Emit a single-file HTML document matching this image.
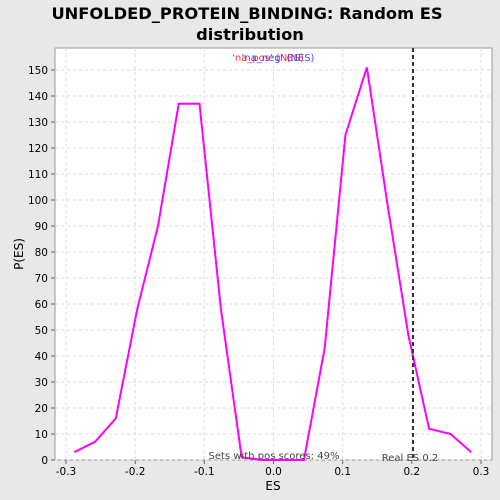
<!DOCTYPE html>
<html><head><style>
body{margin:0;background:#e8e8e8;font-family:"DejaVu Sans","Liberation Sans",sans-serif;}
svg{display:block}
</style></head><body>
<svg width="500" height="500">
<rect x="0" y="0" width="500" height="500" fill="#e8e8e8"/>
<text x="247" y="19" text-anchor="middle" font-size="16.3" font-weight="bold" fill="#000">UNFOLDED_PROTEIN_BINDING: Random ES</text>
<text x="250" y="40" text-anchor="middle" font-size="16.3" font-weight="bold" fill="#000">distribution</text>
<rect x="55" y="48" width="437" height="412" fill="#fff" stroke="#999"/>
<g id="grid"></g>
<g id="axes"></g>
<text x="268" y="61" text-anchor="middle" font-size="10" fill="#f33">'na_pos' (NES)</text>
<text x="278" y="61" text-anchor="middle" font-size="10" fill="#44f">'na_neg' (NES)</text>
<polyline id="line" fill="none" stroke="#f0f" stroke-width="2"/>
<line id="real" stroke="#333" stroke-width="2" stroke-dasharray="4,3"/>
<text x="274" y="459" text-anchor="middle" font-size="10" fill="#444">Sets with pos scores: 49%</text>
<text x="410" y="461" text-anchor="middle" font-size="10" fill="#444">Real ES 0.2</text>
<text x="273" y="490" text-anchor="middle" font-size="12">ES</text>
<text x="23" y="254" text-anchor="middle" font-size="12" transform="rotate(-90 23 254)">P(ES)</text>
</svg>
<script>
const esValues=[-0.288,-0.258,-0.228,-0.197,-0.167,-0.137,-0.107,-0.076,-0.046,-0.016,0.014,0.044,0.074,0.104,0.135,0.165,0.195,0.225,0.256,0.286];
const pValues=[3,7,16,58,90,137,137,58,1,0,0,0,43,125,151,98,48,12,10,3];
const xTicks=[-0.3,-0.2,-0.1,0.0,0.1,0.2,0.3];
const yTicks=[0,10,20,30,40,50,60,70,80,90,100,110,120,130,140,150];
const realES=0.2017;
const NS="http://www.w3.org/2000/svg";
const xs=v=>273.5+v*691.7, ys=v=>460-v*2.6;
const grid=document.getElementById('grid'), axes=document.getElementById('axes');
function mk(tag,attrs,parent){const e=document.createElementNS(NS,tag);for(const k in attrs)e.setAttribute(k,attrs[k]);parent.appendChild(e);return e;}
xTicks.forEach(t=>{const x=xs(t);
 const g=mk('line',{x1:x,x2:x,y1:48,y2:460,stroke:'#ddd','stroke-dasharray':'3,3'},grid);
 
 
 mk('line',{x1:x,x2:x,y1:460,y2:464,stroke:'#666'},axes);
 const tx=mk('text',{x:x,y:475,'text-anchor':'middle','font-size':'10.5'},axes);tx.textContent=t.toFixed(1);
 
 });
yTicks.forEach(t=>{const y=ys(t);
 const g=mk('line',{x1:55,x2:492,y1:y,y2:y,stroke:'#ddd','stroke-dasharray':'3,3'},grid);
 
 
 mk('line',{x1:51,x2:55,y1:y,y2:y,stroke:'#666'},axes);
 const tx=mk('text',{x:48,y:y+4,'text-anchor':'end','font-size':'10.5'},axes);tx.textContent=t;
 
 });
document.getElementById('line').setAttribute('points',esValues.map((v,i)=>xs(v)+','+ys(pValues[i])).join(' '));
const r=document.getElementById('real');
r.setAttribute('x1',xs(realES));r.setAttribute('x2',xs(realES));r.setAttribute('y1',48);r.setAttribute('y2',460);
</script>
</body></html>
